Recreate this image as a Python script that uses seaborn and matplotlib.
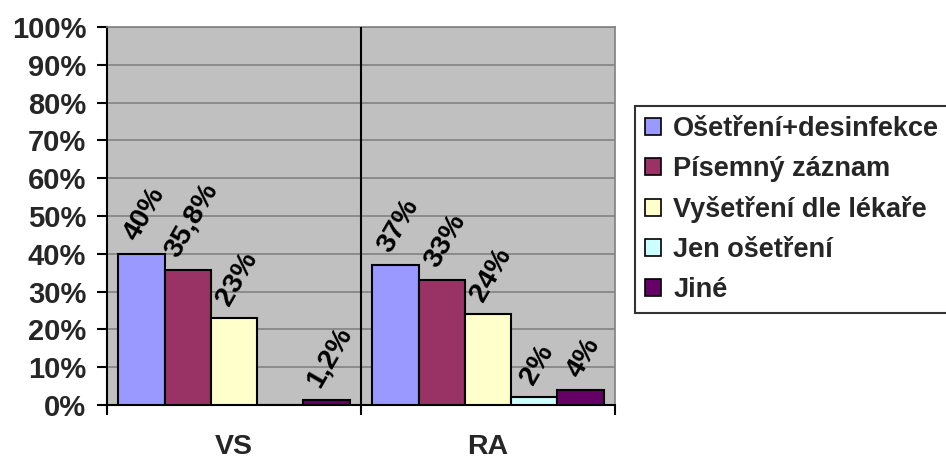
import matplotlib
matplotlib.use("Agg")
import matplotlib.pyplot as plt
import seaborn as sns
import pandas as pd
from matplotlib.ticker import FixedLocator, FuncFormatter

# Data
groups = ["VS", "RA"]
categories = ["Ošetření+desinfekce", "Písemný záznam", "Vyšetření dle lékaře",
              "Jen ošetření", "Jiné"]
vs_values = [40, 35.8, 23, 0, 1.2]
ra_values = [37, 33, 24, 2, 4]
colors = ["#9999FF", "#993366", "#FFFFCC", "#CCFFFF", "#660066"]
y_ticks = list(range(0, 101, 10))

rows = []
for g, vals in zip(groups, [vs_values, ra_values]):
    for c, v in zip(categories, vals):
        rows.append({"group": g, "kind": c, "value": v})
df = pd.DataFrame(rows)

sns.set_style("ticks")
plt.rcParams["font.family"] = ["Liberation Sans", "DejaVu Sans"]
plt.rcParams["font.weight"] = "bold"

fig = plt.figure(figsize=(9.46, 4.62), dpi=100)
ax = fig.add_axes([107 / 946, 1 - 405 / 462, (615 - 107) / 946, (405 - 27) / 462])
ax.set_facecolor("#C0C0C0")

sns.barplot(data=df, x="group", y="value", hue="kind", order=groups,
            hue_order=categories, palette=colors, width=0.91, gap=0,
            edgecolor="black", linewidth=1.5, saturation=1, ax=ax,
            zorder=3)

# Rotated value labels above bars
for cont, kind in zip(ax.containers, categories):
    vals = df[df["kind"] == kind].set_index("group").loc[groups, "value"]
    for bar, v in zip(cont, vals):
        if v == 0:
            continue
        text = f"{v:g}".replace(".", ",") + "%"
        ax.annotate(text, (bar.get_x() + bar.get_width() / 2, v),
                    xytext=(2.5, 6), textcoords="offset points",
                    ha="center", va="bottom", rotation=60,
                    fontsize=20.5, fontweight="bold", color="black")

ax.set_xlim(-0.5, 1.5)
ax.set_ylim(0, 100)
ax.yaxis.set_major_locator(FixedLocator(y_ticks))
ax.yaxis.set_major_formatter(FuncFormatter(lambda v, p: f"{v:.0f}%"))
ax.grid(axis="y", color="#878787", linewidth=1.3, zorder=0)
ax.set_axisbelow(True)

# category labels centered, boundary tick marks between categories
ax.set_xticks([0, 1])
ax.set_xticklabels(groups)
ax.set_xticks([-0.5, 0.5, 1.5], minor=True)
ax.tick_params(axis="x", which="major", length=0, pad=21, labelsize=20.5)
ax.tick_params(axis="x", which="minor", length=7, width=1.5, direction="out",
               color="black")
ax.tick_params(axis="y", length=7, width=1.5, direction="out", pad=8,
               labelsize=21, color="black")
for lab in ax.get_xticklabels() + ax.get_yticklabels():
    lab.set_fontweight("bold")

ax.axvline(0.5, color="black", linewidth=1.5, zorder=4)

ax.set_xlabel("")
ax.set_ylabel("")
for side in ["left", "bottom"]:
    ax.spines[side].set_color("black")
    ax.spines[side].set_linewidth(1.5)
for side in ["top", "right"]:
    ax.spines[side].set_color("#808080")
    ax.spines[side].set_linewidth(1.2)

leg = ax.legend(loc="upper left", bbox_to_anchor=(635 / 946, 1 - 106 / 462),
                bbox_transform=fig.transFigure, frameon=True, fancybox=False,
                fontsize=19.5, handlelength=0.6, handleheight=0.6,
                handletextpad=0.45, labelspacing=0.52, borderpad=0.36,
                borderaxespad=0, title=None)
leg.get_frame().set_edgecolor("black")
leg.get_frame().set_linewidth(1.5)
for t in leg.get_texts():
    t.set_fontweight("bold")
for h in leg.legend_handles:
    h.set_edgecolor("black")
    h.set_linewidth(1.2)

fig.savefig("out.png", dpi=100, facecolor="white")
